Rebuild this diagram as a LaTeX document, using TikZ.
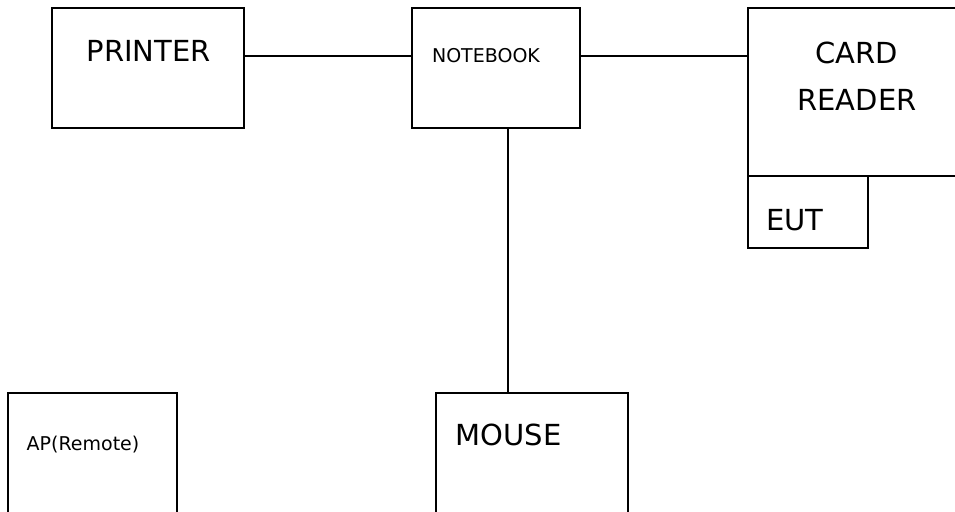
\documentclass[tikz,border=0pt]{standalone}
\usepackage{fontspec}
\setmainfont{DejaVu Sans}
\begin{document}
\begin{tikzpicture}[x=1pt,y=-1pt,
  box/.style={draw=black,line width=1.8pt,rectangle,inner sep=0pt},
  link/.style={draw=black,line width=1.8pt},
  bigtxt/.style={inner sep=0pt,anchor=base,font=\fontsize{29}{34}\selectfont},
  smalltxt/.style={inner sep=0pt,anchor=base,font=\fontsize{19}{23}\selectfont}]
\useasboundingbox (0,0) rectangle (955,511);
\fill[white] (0,0) rectangle (955,511);
% boxes
\node[box,minimum width=191.7pt,minimum height=120pt] (printer) at (148.2,68.3) {};
\node[box,minimum width=168pt,minimum height=120pt] (notebook) at (496.3,68.3) {};
\node[box,minimum width=221.7pt,minimum height=167.7pt] (cardreader) at (859.2,92.2) {};
\node[box,minimum width=120pt,minimum height=72.3pt] (eut) at (808.3,212.2) {};
\node[box,minimum width=168.4pt,minimum height=127.3pt] (ap) at (92.5,456.3) {};
\node[box,minimum width=192.3pt,minimum height=127.3pt] (mouse) at (532.2,456.3) {};
% texts
\node[bigtxt] (tprinter) at (148.8,61.5) {PRINTER};
\node[smalltxt] (tnotebook) at (486,63) {NOTEBOOK};
\node[bigtxt] (tcard) at (857,63.5) {CARD};
\node[bigtxt] (treader) at (857,110.5) {READER};
\node[bigtxt] (teut) at (795,230.5) {EUT};
\node[smalltxt] (tap) at (83,450.5) {AP(Remote)};
\node[bigtxt] (tmouse) at (508.5,445.5) {MOUSE};
% connectors
\coordinate (h1) at (0,56);
\coordinate (h2) at (0,56);
\coordinate (v1) at (508,0);
\draw[link] (printer.east |- h1) -- (notebook.west |- h1);
\draw[link] (notebook.east |- h2) -- (cardreader.west |- h2);
\draw[link] (notebook.south -| v1) -- (mouse.north -| v1);
\end{tikzpicture}
\end{document}
